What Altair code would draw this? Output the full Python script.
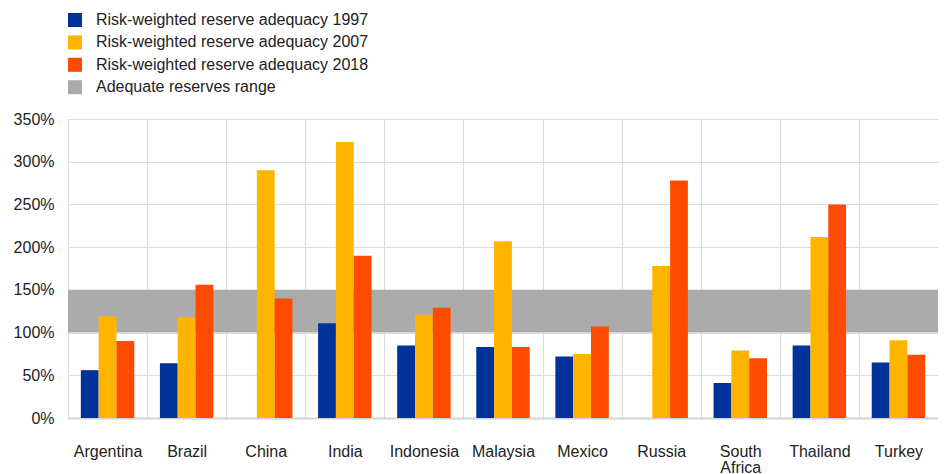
import altair as alt
import pandas as pd

countries = ["Argentina", "Brazil", "China", "India", "Indonesia", "Malaysia",
             "Mexico", "Russia", "South Africa", "Thailand", "Turkey"]
v1997 = [56, 64, None, 111, 85, 83, 72, None, 41, 85, 65]
v2007 = [119, 118, 290, 323, 121, 207, 75, 178, 79, 212, 91]
v2018 = [90, 156, 140, 190, 129, 83, 107, 278, 70, 250, 74]
series_names = ["Risk-weighted reserve adequacy 1997",
                "Risk-weighted reserve adequacy 2007",
                "Risk-weighted reserve adequacy 2018",
                "Adequate reserves range"]
colors = ["#003299", "#FFB400", "#FF4B00", "#ABABAB"]
range_low = [100]
range_high = [150]
y_ticks = [0, 50, 100, 150, 200, 250, 300, 350]

rows = []
for name, vals in zip(series_names[:3], [v1997, v2007, v2018]):
    for c, v in zip(countries, vals):
        if v is not None:
            rows.append({"country": c, "series": name, "value": v})
bars_df = pd.DataFrame(rows)
band_df = pd.DataFrame({"lo": range_low, "hi": range_high, "series": [series_names[3]]})

FONT = "Liberation Sans"
FS = 16
W, H = 870, 299

color_scale = alt.Scale(domain=series_names, range=colors)

band = alt.Chart(band_df).mark_rect().encode(
    x=alt.value(0), x2=alt.value(W),
    y=alt.Y("lo:Q", scale=alt.Scale(domain=[0, 350])),
    y2="hi:Q",
    color=alt.Color("series:N", scale=color_scale, sort=series_names,
                    legend=alt.Legend(title=None)),
)

bars = alt.Chart(bars_df).mark_bar().encode(
    x=alt.X("country:N", sort=countries,
            scale=alt.Scale(paddingInner=0, paddingOuter=0),
            axis=alt.Axis(title=None, tickBand="extent", grid=True, ticks=False,
                          labelAngle=0, labelPadding=25, labelLineHeight=16,
                          labelExpr="datum.label == 'South Africa' ? ['South', 'Africa'] : datum.label",
                          domainColor="#d4d4d4", domainWidth=2,
                          gridColor="#dcdcdc")),
    xOffset=alt.XOffset("series:N", sort=series_names[:3],
                        scale=alt.Scale(paddingOuter=0.72, paddingInner=0)),
    y=alt.Y("value:Q", scale=alt.Scale(domain=[0, 350]),
            axis=alt.Axis(title=None, values=y_ticks, labelExpr="datum.value + '%'",
                          domain=False, ticks=False, labelPadding=14,
                          gridColor="#dcdcdc")),
    color=alt.Color("series:N", scale=color_scale, sort=series_names,
                    legend=alt.Legend(title=None)),
)

chart = alt.layer(band, bars).properties(
    width=W, height=H,
    autosize=alt.AutoSizeParams(type="none"),
    padding={"left": 60, "top": 111, "right": 0, "bottom": 56},
).configure_view(stroke=None).configure_axis(
    labelFont=FONT, labelFontSize=FS, labelColor="#222222",
).configure_legend(
    orient="none", legendX=-1, legendY=-107,
    symbolType="square", symbolSize=196, symbolStrokeWidth=0,
    labelFont=FONT, labelFontSize=FS, labelColor="#222222",
    labelOffset=13, rowPadding=6.4, labelLimit=0,
)

chart.save("out.html", embed_options={"renderer": "svg", "actions": False})
